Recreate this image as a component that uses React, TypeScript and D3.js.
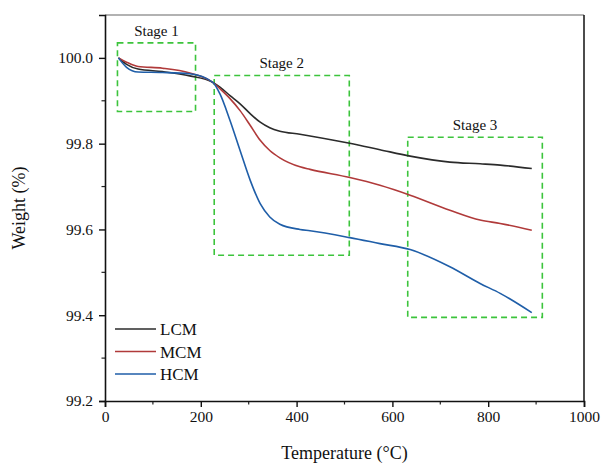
import React, { useEffect, useRef } from "react";
import * as d3 from "d3";

const temps = [28, 45, 69, 120, 177, 225, 240, 261, 282, 303, 324, 344, 365, 407, 428, 511, 574, 637, 720, 783, 825, 891];
const lcm = [100.0, 99.985, 99.974, 99.968, 99.958, 99.943, 99.932, 99.912, 99.893, 99.87, 99.85, 99.837, 99.829, 99.822, 99.818, 99.801, 99.786, 99.771, 99.757, 99.753, 99.75, 99.742];
const mcm = [100.0, 99.99, 99.98, 99.976, 99.965, 99.943, 99.928, 99.905, 99.877, 99.843, 99.808, 99.784, 99.767, 99.746, 99.74, 99.721, 99.703, 99.68, 99.645, 99.622, 99.614, 99.598];
const hcm = [100.0, 99.978, 99.967, 99.966, 99.963, 99.943, 99.916, 99.854, 99.784, 99.715, 99.66, 99.629, 99.612, 99.6, 99.597, 99.581, 99.567, 99.553, 99.513, 99.474, 99.451, 99.406];
const seriesNames = ["LCM", "MCM", "HCM"];
const seriesColors = ["#2b2b2b", "#b03a3a", "#1f5ea8"];
// stage boxes: [x0, x1, yTop, yBottom]
const stageLabels = ["Stage 1", "Stage 2", "Stage 3"];
const stageBoxes = [
  [26, 189, 100.035, 99.875],
  [228, 510, 99.959, 99.54],
  [632, 913, 99.815, 99.395],
];
const xTicks = [0, 200, 400, 600, 800, 1000];
const yTicks = [99.2, 99.4, 99.6, 99.8, 100.0];

export default function App() {
  const ref = useRef<SVGSVGElement>(null);

  useEffect(() => {
    const margin = { top: 15, right: 20, bottom: 67, left: 105 };
    const W = 604, H = 468;
    const w = W - margin.left - margin.right,
      h = H - margin.top - margin.bottom;
    const svg = d3.select(ref.current);
    svg.selectAll("*").remove();
    const g = svg.append("g").attr("transform", `translate(${margin.left},${margin.top})`);
    const font = "'Liberation Serif', 'Times New Roman', serif";

    const x = d3.scaleLinear().domain([0, 1000]).range([0, w]);
    const y = d3.scaleLinear().domain([99.2, 100.1]).range([h, 0]);

    // frame (top lighter, right darker like the original)
    g.append("line").attr("x1", 0).attr("x2", w).attr("y1", 0).attr("y2", 0)
      .attr("stroke", "#666").attr("stroke-width", 1.2);
    g.append("line").attr("x1", w).attr("x2", w).attr("y1", 0).attr("y2", h)
      .attr("stroke", "#111").attr("stroke-width", 1.5);

    // minor ticks
    const xMinor = d3.range(100, 1000, 200);
    const yMinor = d3.range(99.3, 100.1, 0.2);
    g.selectAll(".xminor").data(xMinor).join("line")
      .attr("x1", d => x(d)).attr("x2", d => x(d)).attr("y1", h).attr("y2", h + 3.5)
      .attr("stroke", "#222").attr("stroke-width", 1.2);
    g.selectAll(".yminor").data(yMinor).join("line")
      .attr("y1", d => y(d)).attr("y2", d => y(d)).attr("x1", 0).attr("x2", -3.5)
      .attr("stroke", "#222").attr("stroke-width", 1.2);

    const xAxis = g.append("g").attr("transform", `translate(0,${h})`)
      .call(d3.axisBottom(x).tickValues(xTicks).tickSize(6).tickPadding(4).tickFormat(d3.format("d")));
    const yAxis = g.append("g")
      .call(d3.axisLeft(y).tickValues(yTicks).tickSize(6).tickPadding(6).tickFormat(d3.format(".1f")));
    [xAxis, yAxis].forEach(a => {
      a.select(".domain").attr("stroke", "#111").attr("stroke-width", 1.6);
      a.selectAll(".tick line").attr("stroke", "#111").attr("stroke-width", 1.4);
      a.selectAll("text").attr("font-family", font).attr("font-size", 15.5).attr("fill", "#111");
    });

    // stage boxes
    stageBoxes.forEach((b, i) => {
      g.append("rect")
        .attr("x", x(b[0])).attr("y", y(b[2]))
        .attr("width", x(b[1]) - x(b[0])).attr("height", y(b[3]) - y(b[2]))
        .attr("fill", "none").attr("stroke", "#3cc43c").attr("stroke-width", 1.6)
        .attr("stroke-dasharray", "6,4");
      g.append("text")
        .attr("x", (x(b[0]) + x(b[1])) / 2).attr("y", y(b[2]) - 7)
        .attr("text-anchor", "middle").attr("font-family", font).attr("font-size", 15)
        .attr("fill", "#111").text(stageLabels[i]);
    });

    // curves
    const allSeries = [lcm, mcm, hcm];
    const line = d3.line<number>()
      .x((_, i) => x(temps[i]))
      .y(d => y(d))
      .curve(d3.curveMonotoneX);
    allSeries.forEach((s, i) => {
      g.append("path").datum(s).attr("d", line)
        .attr("fill", "none").attr("stroke", seriesColors[i]).attr("stroke-width", 1.6);
    });

    // legend
    const lg = g.append("g").attr("transform", `translate(10, ${329 - margin.top})`);
    seriesNames.forEach((n, i) => {
      lg.append("line").attr("x1", 0).attr("x2", 41).attr("y1", i * 22.5).attr("y2", i * 22.5)
        .attr("stroke", seriesColors[i]).attr("stroke-width", 1.6);
      lg.append("text").attr("x", 45).attr("y", i * 22.5 + 6)
        .attr("font-family", font).attr("font-size", 17).attr("fill", "#111").text(n);
    });

    // axis titles
    g.append("text").attr("x", w / 2).attr("y", h + 58)
      .attr("text-anchor", "middle").attr("font-family", font).attr("font-size", 18)
      .attr("fill", "#111").text("Temperature (°C)");
    g.append("text").attr("transform", `translate(${-80},${h / 2}) rotate(-90)`)
      .attr("text-anchor", "middle").attr("font-family", font).attr("font-size", 18)
      .attr("fill", "#111").text("Weight (%)");
  }, []);

  return (
    <svg ref={ref} width={604} height={468}
      style={{ position: "absolute", left: 0, top: 0, background: "#fff" }} />
  );
}
